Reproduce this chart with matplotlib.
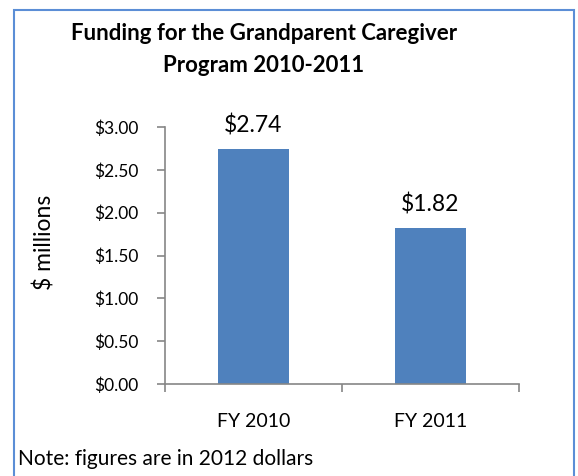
import matplotlib
matplotlib.use('Agg')
import matplotlib.pyplot as plt
from matplotlib.patches import Rectangle

plt.rcParams['font.family'] = ['Lato', 'DejaVu Sans']

categories = ['FY 2010', 'FY 2011']
funding = [2.74, 1.82]
value_labels = ['$2.74', '$1.82']
yticks = [0.0, 0.5, 1.0, 1.5, 2.0, 2.5, 3.0]
ytick_labels = ['$%.2f' % v for v in yticks]

bar_color = '#4F81BD'
axis_color = '#868686'

W, H = 578, 476
fig = plt.figure(figsize=[W / 100, H / 100], dpi=100)
ax = fig.add_axes([165 / W, 1 - 384 / H, (519 - 165) / W, (384 - 127) / H])

x = list(range(len(categories)))
ax.bar(x, funding, width=0.4, color=bar_color)
for xi, v, lab in zip(x, funding, value_labels):
    ax.text(xi, v + 0.28, lab, ha='center', va='center', fontsize=16.5)

ax.set_xlim(-0.5, 1.5)
ax.set_ylim(0, 3)
ax.set_yticks(yticks)
ax.set_yticklabels(ytick_labels, fontsize=12.5)
ax.set_xticks([-0.5, 0.5, 1.5])
ax.set_xticklabels([])
ax.tick_params(axis='both', colors=axis_color, length=6, width=1.2)
ax.tick_params(axis='y', pad=13, labelcolor='black')
for s in ['top', 'right']:
    ax.spines[s].set_visible(False)
for s in ['left', 'bottom']:
    ax.spines[s].set_color(axis_color)
    ax.spines[s].set_linewidth(1.2)

# category labels sit between the boundary ticks
for xi, cat in zip(x, categories):
    ax.text(xi, -0.44, cat, ha='center', va='center', fontsize=14)

fig.text(45 / W, 1 - 242 / H, '$ millions', rotation=90, ha='center',
         va='center', fontsize=16.5)
fig.text(264 / W, 1 - 33 / H, 'Funding for the Grandparent Caregiver',
         ha='center', va='center', fontsize=16, fontweight='bold')
fig.text(264 / W, 1 - 65 / H, 'Program 2010-2011',
         ha='center', va='center', fontsize=16, fontweight='bold')
fig.text(18 / W, 1 - 459 / H, 'Note: figures are in 2012 dollars',
         ha='left', va='center', fontsize=15)

fig.patches.append(Rectangle((14 / W, -0.01), (574 - 14) / W, 1 - 10 / H + 0.01,
                             transform=fig.transFigure, fill=False,
                             edgecolor='#5B8ED6', linewidth=1.5))

fig.savefig('out.png', dpi=100)
